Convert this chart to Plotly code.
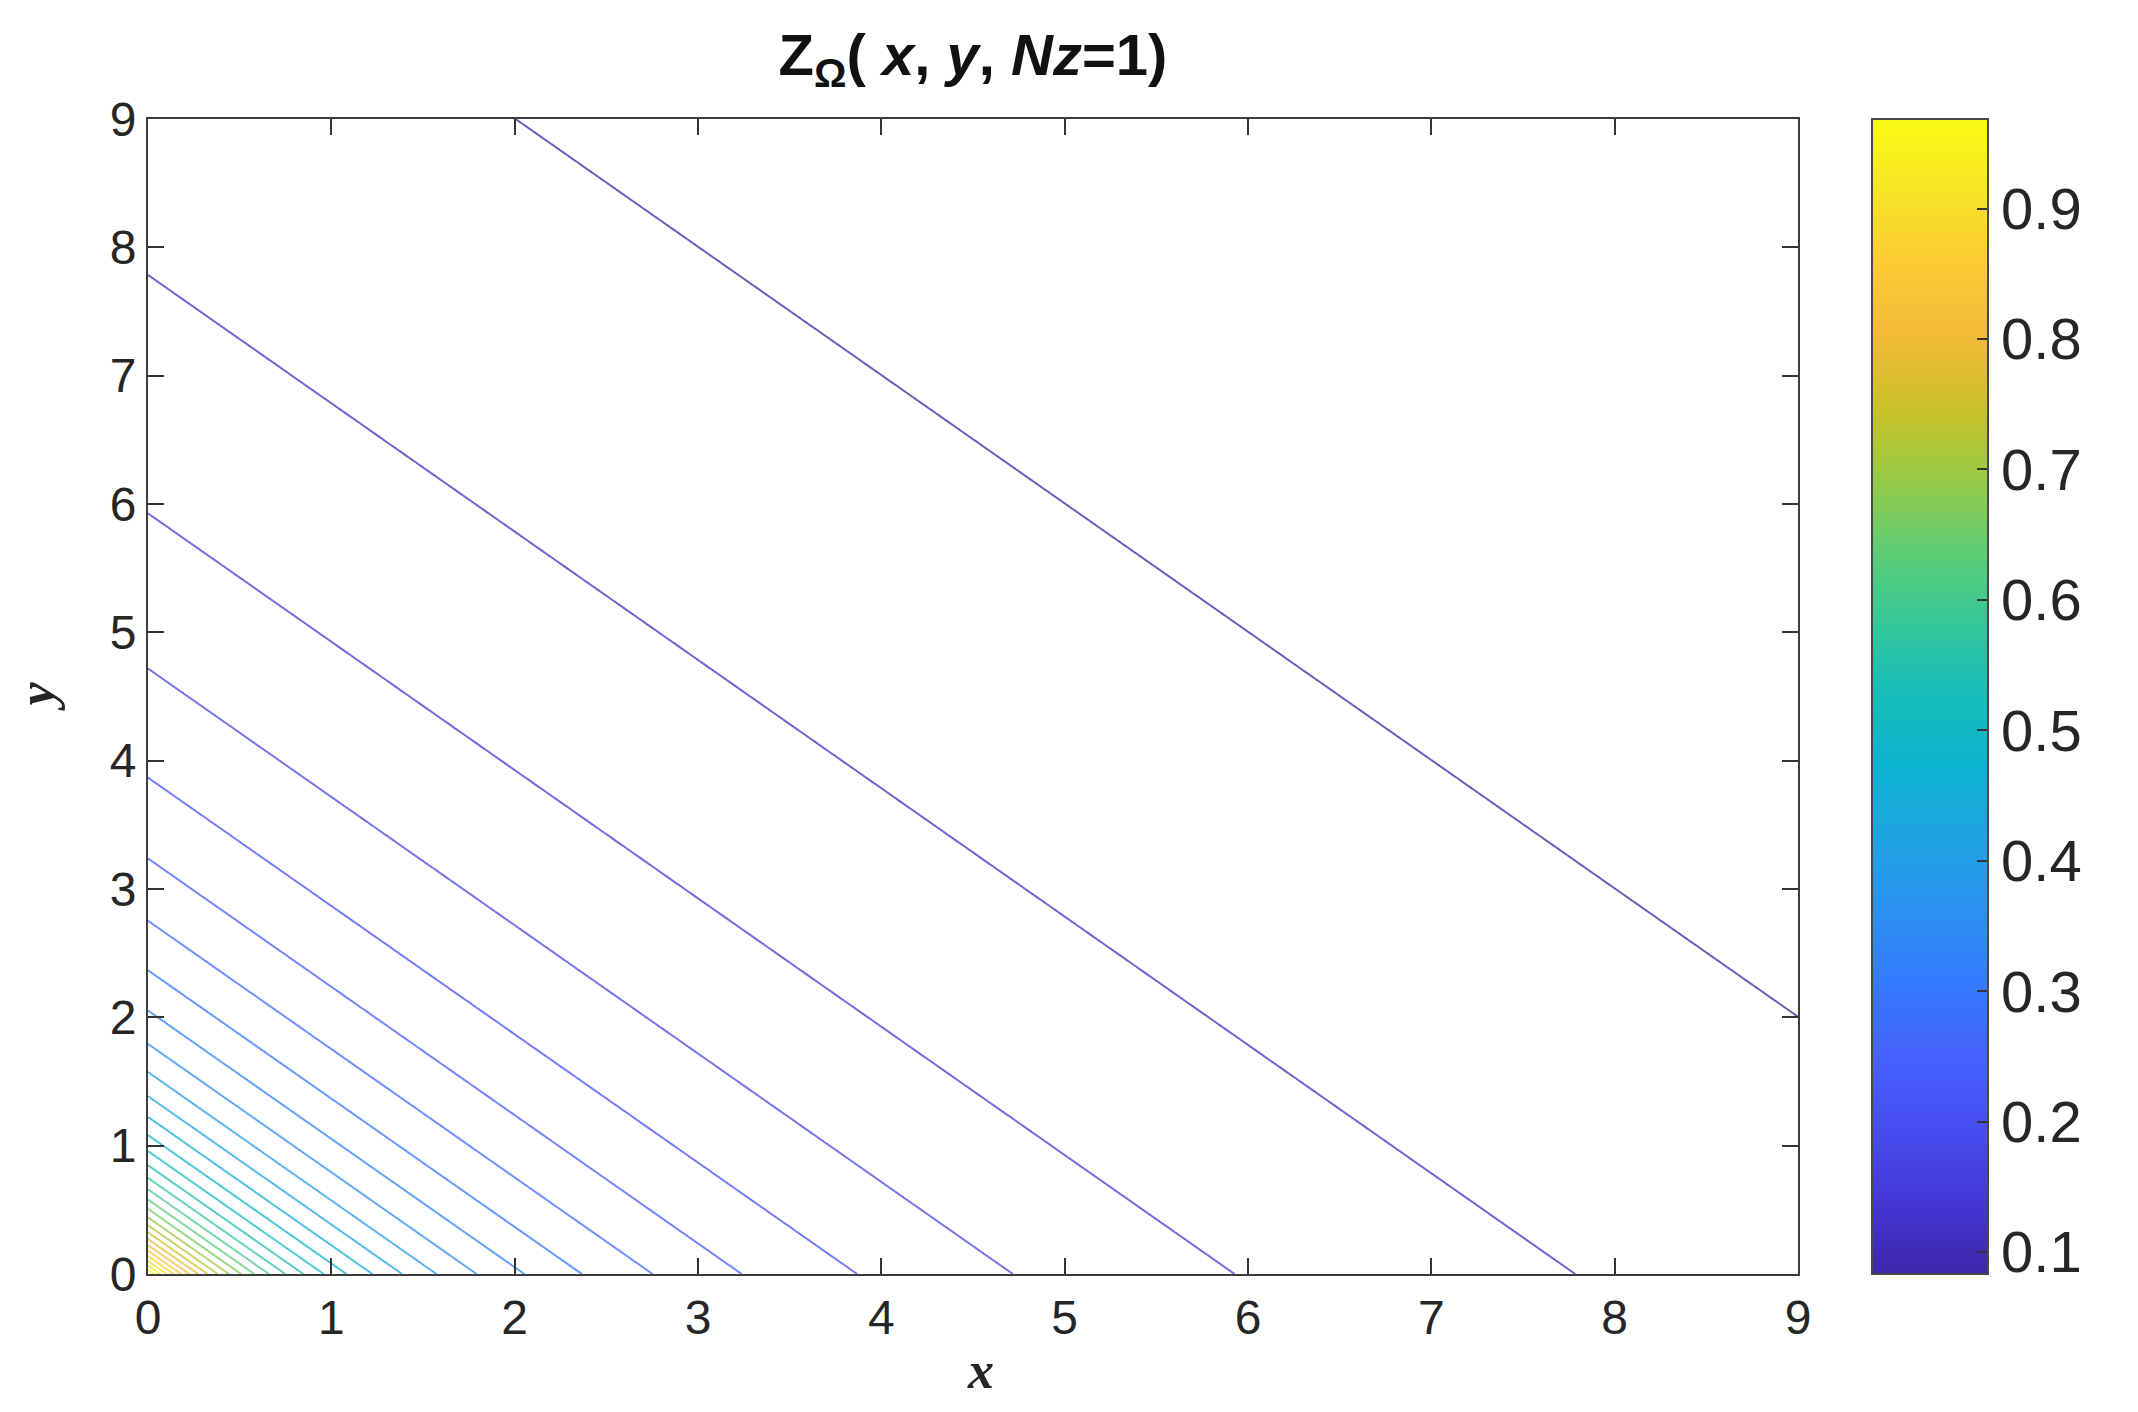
import numpy as np
import plotly.graph_objects as go

# ---- data ----
x_ticks = [0, 1, 2, 3, 4, 5, 6, 7, 8, 9]
y_ticks = [0, 1, 2, 3, 4, 5, 6, 7, 8, 9]
cbar_ticks = [0.1, 0.2, 0.3, 0.4, 0.5, 0.6, 0.7, 0.8, 0.9]
level_min = 0.0833      # lowest contour (line through (2,9)-(9,2))
level_max = 0.9687      # top of colour bar
n_levels = 30
color_min = 0.0832
color_max = 0.9687

# surface Z = 1/(1+x+y) (levels evenly spaced in Z, lines x+y = const)
grid_fine = np.linspace(0, 1, 401)
grid_coarse = np.linspace(1, 9, 321)
grid = np.unique(np.concatenate([grid_fine, grid_coarse]))
X, Y = np.meshgrid(grid, grid)
Z = 1.0 / (1.0 + X + Y)

# parula colormap (MATLAB)
parula = [
    (0.2422, 0.1504, 0.6603), (0.2704, 0.2138, 0.8346), (0.2813, 0.2985, 0.9397),
    (0.2710, 0.3860, 0.9898), (0.2006, 0.4803, 0.9906), (0.1716, 0.5655, 0.9393),
    (0.1288, 0.6408, 0.8910), (0.0433, 0.7039, 0.8242), (0.0770, 0.7468, 0.7224),
    (0.2061, 0.7808, 0.6065), (0.3671, 0.8021, 0.4563), (0.5886, 0.7913, 0.2833),
    (0.7945, 0.7554, 0.1570), (0.9523, 0.7284, 0.2237), (0.9938, 0.7974, 0.1974),
    (0.9601, 0.8963, 0.1507), (0.9769, 0.9839, 0.0805),
]
colorscale = [[i / (len(parula) - 1),
               "rgb(%d,%d,%d)" % tuple(round(c * 255) for c in col)]
              for i, col in enumerate(parula)]

W, H = 2138, 1412
L, R, T, B = 140, 348, 111, 146
plot_w = W - L - R
plot_h = H - T - B

fig = go.Figure()
fig.add_trace(go.Contour(
    x=grid, y=grid, z=Z,
    autocontour=False,
    contours=dict(start=level_min, end=level_max,
                  size=(level_max - level_min) / (n_levels - 1),
                  coloring="lines", showlabels=False),
    colorscale=colorscale, zauto=False, zmin=color_min, zmax=color_max,
    line=dict(width=2, smoothing=0),
    opacity=0.75,
    showscale=False, hoverinfo="skip",
))

# colour bar (continuous, like MATLAB's)
fig.add_trace(go.Scatter(
    x=[0], y=[0], mode="markers",
    marker=dict(size=0.1, opacity=0, color=[color_min],
                colorscale=colorscale, cmin=color_min, cmax=color_max,
                showscale=True,
                colorbar=dict(
                    xref="paper", x=(1864 - L) / plot_w, xanchor="left", xpad=0,
                    yref="paper", y=0.5, yanchor="middle", ypad=0,
                    lenmode="fraction", len=1.0,
                    thicknessmode="pixels", thickness=116,
                    outlinewidth=2, outlinecolor="#4a4a4a",
                    ticks="inside", ticklen=12, tickwidth=2, tickcolor="#333333",
                    tickvals=cbar_ticks, ticktext=["%.1f" % v for v in cbar_ticks],
                    tickfont=dict(family="Liberation Sans", size=58, color="#262626"),
                )),
    hoverinfo="skip", showlegend=False,
))

axis_common = dict(
    range=[0, 9], showgrid=False, zeroline=False,
    ticks="inside", ticklen=16, tickwidth=2, tickcolor="#333333",
    showline=True, linewidth=2, linecolor="#3c3c3c", mirror="ticks",
    tickfont=dict(family="Liberation Sans", size=48, color="#262626"),
)

fig.update_layout(
    width=W, height=H,
    margin=dict(l=L, r=R, t=T, b=B, pad=0),
    paper_bgcolor="white", plot_bgcolor="white",
    showlegend=False,
    title=dict(
        text="<b>Z<sub>Ω</sub>( <i>x</i>, <i>y</i>, <i>Nz</i>=1)</b>",
        font=dict(family="Liberation Sans", size=58, color="#111111"),
        x=0.5, xref="paper", xanchor="center",
        y=1 - 47 / H, yref="container", yanchor="middle",
    ),
    xaxis=dict(tickvals=x_ticks, ticktext=[str(v) for v in x_ticks], **axis_common),
    yaxis=dict(tickvals=y_ticks, ticktext=[str(v) for v in y_ticks], **axis_common),
    annotations=[
        dict(text="<b><i>x</i></b>", xref="paper", yref="paper",
             x=(972 - L) / plot_w, y=-(1362 - (H - B)) / plot_h,
             xanchor="center", yanchor="middle", showarrow=False,
             font=dict(family="Liberation Serif", size=52, color="#262626")),
        dict(text="<b><i>y</i></b>", xref="paper", yref="paper",
             x=(28 - L) / plot_w, y=0.5, textangle=-90,
             xanchor="center", yanchor="middle", showarrow=False,
             font=dict(family="Liberation Serif", size=52, color="#262626")),
    ],
)

fig.write_html("out.html")
